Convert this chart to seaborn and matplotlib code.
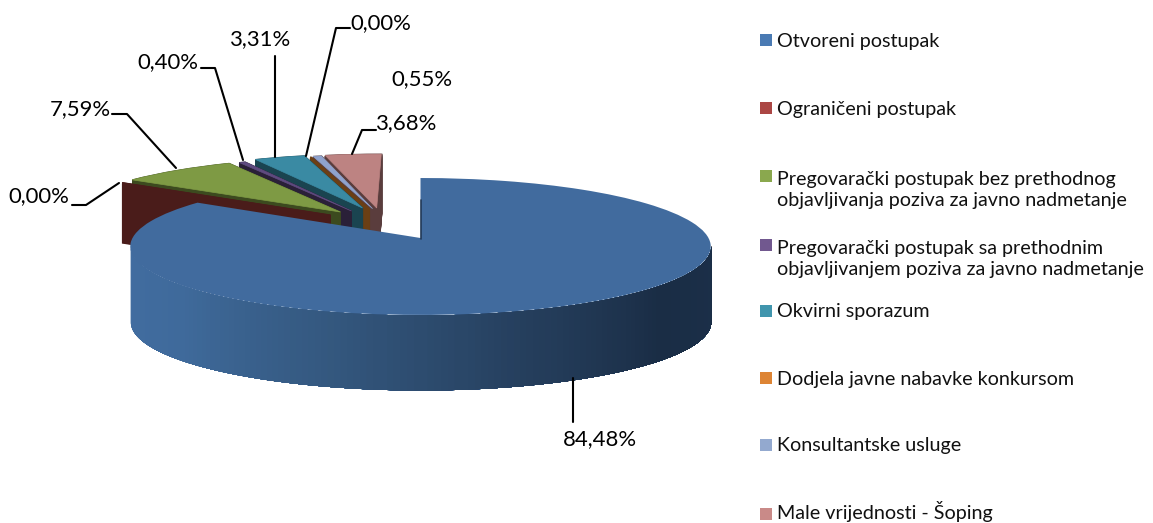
import matplotlib
matplotlib.use("Agg")
import matplotlib.pyplot as plt
import numpy as np
import seaborn as sns
from matplotlib.transforms import Affine2D, Transform

categories = [
    "Otvoreni postupak",
    "Ograničeni postupak",
    "Pregovarački postupak bez prethodnog\nobjavljivanja poziva za javno nadmetanje",
    "Pregovarački postupak sa prethodnim\nobjavljivanjem poziva za javno nadmetanje",
    "Okvirni sporazum",
    "Dodjela javne nabavke konkursom",
    "Konsultantske usluge",
    "Male vrijednosti - Šoping",
]
values = [84.48, 0.00, 7.59, 0.40, 3.31, 0.00, 0.55, 3.68]
value_labels = ["84,48%", "0,00%", "7,59%", "0,40%", "3,31%", "0,00%", "0,55%", "3,68%"]

legend_colors = ["#4a7ab3", "#ab4644", "#8aa84e", "#71588f", "#4095ad", "#dd8434", "#93a9cf", "#c98a88"]
top_colors = ["#416b9e", "#4a1c1a", "#7e9a44", "#5f4b80", "#3a8aa3", "#6b3f14", "#8fa3cd", "#bd8382"]
wall_colors = ["#416b9e", "#4a1c1a", "#3c4a1f", "#2a2038", "#1a4450", "#6b3f14", "#5a3d3d", "#5a3d3d"]

# where each slice sits after being pulled out, in pie radius units
shift_u = [0, -0.326, -0.292, -0.252, -0.213, -0.187, -0.176, -0.161]
shift_v = [0, 0.356, 0.405, 0.421, 0.471, 0.455, 0.460, 0.471]

# label centre, then the leader line
label_pos = [(600, 439), (39, 196), (80, 109), (168, 62), (261, 39), (381, 23), (422, 79), (407, 123)]
leaders = [
    [(573, 378), (573, 422)],
    [(72, 205), (86, 205), (119, 183)],
    [(112, 114), (127, 114), (176, 168)],
    [(201, 68), (215, 68), (243, 160)],
    [(275, 56), (275, 157)],
    [(350, 28), (336, 28), (306, 156)],
    [],
    [(376, 130), (362, 130), (352, 154)],
]
legend_y = [40, 108, 176, 245, 311, 378, 445, 514]
legend_text_y = [41, 109, 190, 259, 312, 379, 446, 512]

CX, K, A, B, C = 420.5, 288.0, -37.9, 238.0, 0.124


class TiltTransform(Transform):
    input_dims = 2
    output_dims = 2

    def transform_non_affine(self, values):
        values = np.asarray(values)
        u, v = values[:, 0], values[:, 1]
        d = 1 + C * v
        return np.column_stack((CX + K * u / d, (B + A * v) / d))


sns.set_theme(style="white")
plt.rcParams["font.family"] = ["Lato", "DejaVu Sans"]

fig = plt.figure(figsize=(11.53, 5.23), dpi=100)
ax = fig.add_axes([0, 0, 1, 1])
tilt = TiltTransform()

# pulled out slices: side walls first, top face last
small_depth = 60
layer_offsets = np.arange(small_depth, -0.5, -0.5)
for n, layer in enumerate(layer_offsets):
    colors = top_colors if layer == 0 else wall_colors
    wedges, _ = ax.pie(values, startangle=90, counterclock=False, colors=colors,
                       wedgeprops=dict(linewidth=0.5 if layer == 0 else 1.5))
    for i, wedge in enumerate(wedges):
        if i == 0:
            wedge.set_visible(False)
            continue
        wedge.set_center((shift_u[i], shift_v[i]))
        wedge.set_edgecolor(colors[i])
        wedge.set_transform(tilt + Affine2D().translate(0, layer) + ax.transData)
        wedge.set_zorder(10 * (8 - i) + n * 0.01)

# side of the big slice, shaded left to right
main_depth = 75
t = np.linspace(np.pi + 0.124, 2 * np.pi - 0.124, 141)
front = tilt.transform_non_affine(np.column_stack((np.cos(t), np.sin(t))))
shades = sns.blend_palette(["#426da1", "#3f6a9b", "#34587f", "#26405f", "#1a2d45", "#1b2f49"], len(t) - 1)
for j, shade in enumerate(shades):
    # each band runs to the far right so the next one paints over its seam
    ax.fill_between(front[j:, 0], front[j:, 1], front[j:, 1] + main_depth,
                    color=shade, linewidth=0, zorder=100 + j * 0.01)

# top of the big slice
wedges, _ = ax.pie(values, startangle=90, counterclock=False, colors=top_colors,
                   wedgeprops=dict(linewidth=0))
for i, wedge in enumerate(wedges):
    if i == 0:
        wedge.set_transform(tilt + ax.transData)
        wedge.set_zorder(110)
    else:
        wedge.set_visible(False)
ax.plot([420.5, 420.5], [200, 239], color="#1a2d45", linewidth=1.2, alpha=0.8, zorder=111)

for label, pos, line in zip(value_labels, label_pos, leaders):
    ax.text(pos[0], pos[1], label, fontsize=15.9, color="black", ha="center", va="center", zorder=120)
    if line:
        xs, ys = zip(*line)
        ax.plot(xs, ys, color="black", linewidth=1.5, zorder=115)

for name, color, y, text_y in zip(categories, legend_colors, legend_y, legend_text_y):
    ax.scatter([766], [y], marker="s", s=75, color=color, linewidths=0, zorder=120)
    ax.text(777, text_y, name, fontsize=14.25, color="#111111", ha="left", va="center",
            linespacing=1.25, zorder=120)

ax.set_aspect("auto")
ax.set_xlim(0, 1153)
ax.set_ylim(523, 0)
ax.set_axis_off()

plt.savefig("out.png", dpi=100)
